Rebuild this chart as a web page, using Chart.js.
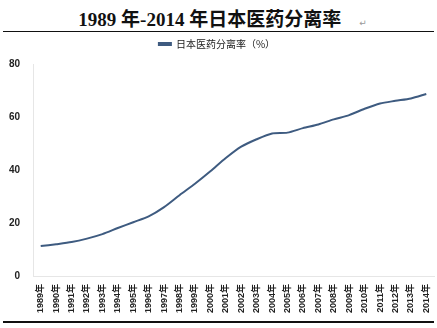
<!DOCTYPE html>
<html>
<head>
<meta charset="utf-8">
<script src="https://cdn.jsdelivr.net/npm/chart.js@4.4.1/dist/chart.umd.min.js"></script>
<style>
  body { margin: 0; background: #fff; }
  #wrap { position: relative; width: 437px; height: 328px; overflow: hidden; }
  #title {
    position: absolute; left: 4px; top: 4px; width: 437px; text-align: center;
    font-family: "Liberation Serif", "Noto Sans CJK SC", serif; font-weight: bold;
    font-size: 19px; color: #111; white-space: nowrap;
  }
  #title .cn { font-family: "Noto Sans CJK SC", sans-serif; }
  #title .mark { font-family: "DejaVu Sans", sans-serif; font-weight: normal; font-size: 9px; color: #999; margin-left: 18px; }
  .rule { position: absolute; left: 3px; width: 431px; height: 1px; background: #111; }
  #chartBox { position: absolute; left: 0; top: 34px; width: 437px; height: 280px; }
</style>
</head>
<body>
<div id="wrap">
  <div id="title">1989 <span class="cn">年</span>-2014 <span class="cn">年日本医药分离率</span><span class="mark">↵</span></div>
  <div class="rule" style="top:31px"></div>
  <div id="chartBox"><canvas id="rateChart"></canvas></div>
  <div class="rule" style="top:321px;height:2px"></div>
</div>
<script>
// 日本医药分离率, 1989-2014 (%)
let years = ["1989年", "1990年", "1991年", "1992年", "1993年", "1994年", "1995年", "1996年", "1997年",
    "1998年", "1999年", "2000年", "2001年", "2002年", "2003年", "2004年", "2005年", "2006年",
    "2007年", "2008年", "2009年", "2010年", "2011年", "2012年", "2013年", "2014年"];
let rates = [11.3, 12.0, 12.8, 14.1, 15.8, 18.1, 20.3, 22.5, 26.0, 30.5, 34.8, 39.5, 44.5,
    48.8, 51.6, 53.8, 54.1, 55.8, 57.2, 59.1, 60.7, 63.1, 65.1, 66.1, 67.0, 68.7];
let yTicks = [0, 20, 40, 60, 80];
let seriesName = "日本医药分离率（%）";

// leave a gap between the legend and the plot
let legendGap = {
    id: "legendGap",
    beforeInit(chart) {
        let fit = chart.legend.fit;
        chart.legend.fit = function () {
            fit.bind(chart.legend)();
            this.height += 5;
        };
    }
};

let ctx = document.getElementById("rateChart").getContext("2d");

new Chart(ctx, {
    type: "line",
    data: {
        labels: years,
        datasets: [{
            label: seriesName,
            data: rates,
            borderColor: "#3e5b80",
            backgroundColor: "#3e5b80",
            borderWidth: 2,
            pointRadius: 0,
            tension: 0.25,
            fill: false
        }]
    },
    plugins: [legendGap],
    options: {
        responsive: true,
        maintainAspectRatio: false,
        animation: false,
        layout: { padding: { left: 0, right: 3, top: 0, bottom: 0 } },
        plugins: {
            legend: {
                position: "top",
                labels: {
                    boxWidth: 12,
                    boxHeight: 2,
                    padding: 5,
                    color: "#222",
                    font: { family: "Noto Sans CJK SC", size: 10 }
                }
            },
            tooltip: { enabled: false }
        },
        scales: {
            x: {
                offset: true,
                afterFit: axis => {
                    axis.height = 38;
                    axis.paddingLeft = 0;
                    axis.paddingRight = 0;
                },
                grid: { display: false, drawTicks: false },
                border: { display: true, color: "#e6e6e6" },
                ticks: {
                    autoSkip: false,
                    minRotation: 90,
                    maxRotation: 90,
                    padding: 8,
                    color: "#222",
                    font: { family: "'Liberation Sans', 'Noto Sans CJK SC'", size: 9, weight: "bold" }
                }
            },
            y: {
                min: 0,
                max: 80,
                afterBuildTicks: axis => { axis.ticks = yTicks.map(v => ({ value: v })); },
                afterFit: axis => { axis.width = 33; },
                grid: { display: false, drawTicks: false },
                border: { display: true, color: "#e6e6e6" },
                ticks: {
                    padding: 13,
                    color: "#222",
                    font: { family: "Liberation Sans", size: 10, weight: "bold" }
                }
            }
        }
    }
});
</script>
</body>
</html>
